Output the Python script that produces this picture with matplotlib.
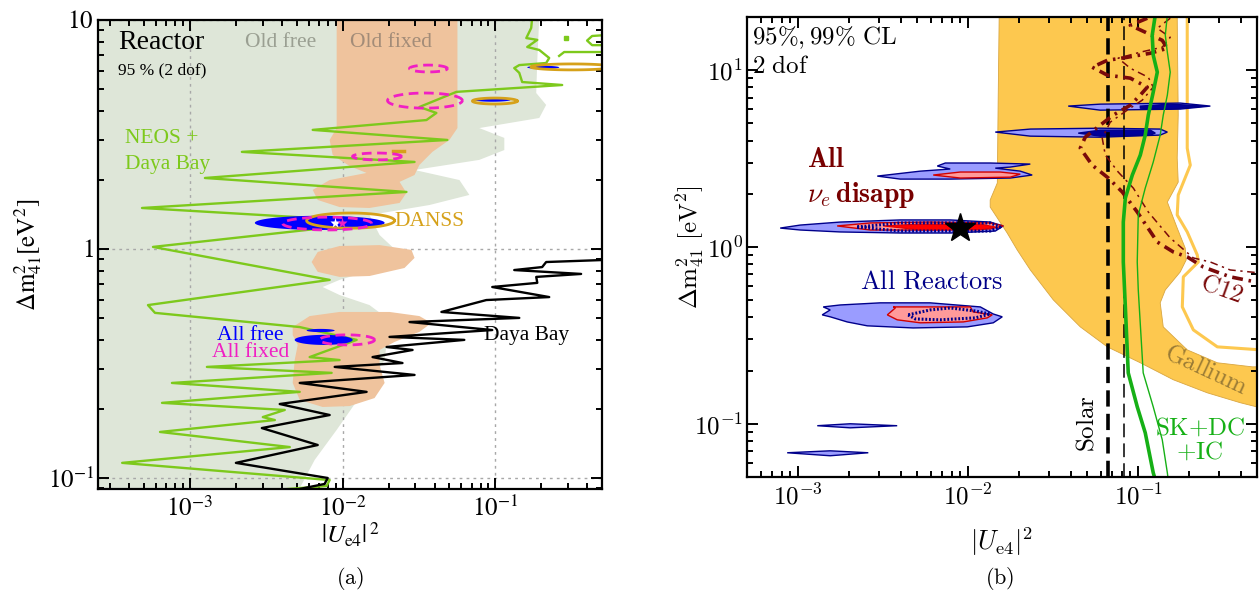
import numpy as np
import matplotlib
matplotlib.use("Agg")
import matplotlib.pyplot as plt

plt.rcParams['font.family'] = ['Liberation Serif', 'DejaVu Serif']
plt.rcParams['mathtext.fontset'] = 'cm'

# ======================= DATA (log10|Ue4|^2, log10 dm2_41) =======================
# ---- panel (a): reactor fits ----
old_free_edge = [(-0.712, 1.01), (-0.725, 0.825), (-0.732, 0.681), (-0.667, 0.629), (-0.712, 0.572),
                 (-1.105, 0.528), (-0.941, 0.485), (-0.941, 0.432), (-1.105, 0.389), (-1.529, 0.345),
                 (-1.235, 0.301), (-1.170, 0.236), (-1.431, 0.192), (-1.824, 0.148), (-1.758, 0.061),
                 (-1.660, 0.000), (-1.693, -0.070), (-2.020, -0.135), (-2.131, -0.166), (-2.020, -0.201),
                 (-1.824, -0.245), (-1.693, -0.310), (-1.725, -0.485), (-1.902, -0.659), (-2.039, -0.790),
                 (-2.183, -0.921), (-2.294, -1.061)]
old_fixed_top = [(-2.039, 1.01), (-2.039, 0.528), (-2.085, 0.476), (-2.065, 0.410), (-1.954, 0.362),
                 (-1.843, 0.332), (-2.085, 0.301), (-2.196, 0.258), (-2.163, 0.214), (-2.020, 0.183),
                 (-1.824, 0.179), (-1.627, 0.201), (-1.582, 0.245), (-1.627, 0.293), (-1.529, 0.323),
                 (-1.497, 0.367), (-1.412, 0.424), (-1.301, 0.476), (-1.248, 0.528), (-1.248, 1.01)]
old_fixed_mid = [(-2.203, -0.057), (-2.163, -0.013), (-2.020, 0.013), (-1.758, 0.017), (-1.549, -0.004),
                 (-1.529, -0.039), (-1.595, -0.083), (-1.824, -0.118), (-2.020, -0.122), (-2.163, -0.100)]
old_fixed_low = [(-2.327, -0.341), (-2.216, -0.293), (-2.020, -0.275), (-1.693, -0.275), (-1.497, -0.293),
                 (-1.418, -0.323), (-1.497, -0.362), (-1.660, -0.406), (-1.758, -0.441), (-1.758, -0.507),
                 (-1.725, -0.585), (-1.791, -0.651), (-1.954, -0.686), (-2.131, -0.690), (-2.281, -0.659),
                 (-2.327, -0.585), (-2.314, -0.485), (-2.294, -0.419), (-2.327, -0.376)]
neos_db = [(-0.758, 1.013), (-0.765, 0.965), (-0.797, 0.921), (-0.725, 0.913), (-0.791, 0.882),
           (-0.712, 0.869), (-0.647, 0.834), (-0.667, 0.812), (-0.843, 0.803), (-0.876, 0.790),
           (-0.843, 0.769), (-0.824, 0.729), (-0.562, 0.716), (-1.255, 0.686), (-1.497, 0.620),
           (-1.386, 0.594), (-1.451, 0.563), (-2.196, 0.520), (-1.314, 0.476), (-2.660, 0.424),
           (-1.529, 0.380), (-2.902, 0.310), (-1.582, 0.249), (-3.314, 0.179), (-1.758, 0.118),
           (-3.242, 0.009), (-2.085, -0.135), (-3.275, -0.245), (-3.229, -0.279), (-2.281, -0.341),
           (-1.908, -0.397), (-2.216, -0.472), (-2.020, -0.485), (-2.889, -0.515), (-2.072, -0.541),
           (-3.118, -0.585), (-2.281, -0.624), (-3.183, -0.672), (-2.379, -0.703), (-2.523, -0.734),
           (-2.444, -0.747), (-3.196, -0.799), (-2.346, -0.865), (-3.444, -0.934), (-2.085, -1.009),
           (-2.105, -1.035), (-2.608, -1.061)]
neos_db_top_a = [(-0.582, 0.843), (-0.549, 0.860), (-0.28, 0.860)]
neos_db_top_b = [(-0.28, 0.934), (-0.366, 0.930), (-0.399, 0.910), (-0.366, 0.890), (-0.28, 0.890)]
neos_db_dot = (-0.536, 0.921)
daya_bay = [(-0.288, -0.048), (-0.667, -0.057), (-0.693, -0.079), (-0.876, -0.092), (-0.438, -0.109),
            (-0.732, -0.122), (-0.725, -0.148), (-1.020, -0.166), (-0.647, -0.210), (-1.059, -0.223),
            (-1.353, -0.275), (-0.843, -0.301), (-1.562, -0.319), (-1.020, -0.354), (-1.693, -0.384),
            (-1.203, -0.397), (-1.712, -0.428), (-1.542, -0.441), (-1.804, -0.472), (-1.608, -0.498),
            (-2.052, -0.515), (-1.529, -0.550), (-2.281, -0.585), (-1.843, -0.624), (-2.412, -0.677),
            (-2.085, -0.725), (-2.529, -0.782), (-2.163, -0.856), (-2.699, -0.934), (-2.098, -1.000),
            (-2.118, -1.026), (-2.281, -1.048)]
# closed contours: (centre log x, centre log y, half-width, half-height) in decades
danss_cl = [(-1.948, 0.124, 0.288, 0.033), (-1.003, 0.646, 0.147, 0.013), (-0.497, 0.795, 0.27, 0.013)]
danss_bar = [(-1.673, 0.428), (-1.595, 0.428)]
all_free_cl = [(-2.150, 0.114, 0.425, 0.031), (-1.020, 0.651, 0.12, 0.008), (-0.686, 0.793, 0.105, 0.007),
               (-2.124, -0.397, 0.19, 0.022), (-2.144, -0.356, 0.092, 0.007)]
all_fixed_cl = [(-1.438, 0.788, 0.124, 0.015), (-1.461, 0.648, 0.245, 0.033), (-1.775, 0.404, 0.16, 0.015),
                (-2.101, 0.111, 0.291, 0.028), (-1.971, -0.397, 0.18, 0.022)]
bf_free = (-2.052, 0.114)
bf_fixed = (-2.007, 0.114)
left_xticks = [1e-3, 1e-2, 1e-1]
left_xticklabels = [r'$10^{-3}$', r'$10^{-2}$', r'$10^{-1}$']
left_yticks = [0.1, 1, 10]
left_yticklabels = [r'$10^{-1}$', r'$1$', r'$10$']

# ---- panel (b): global nu_e disappearance ----
gallium_band = [(-1.818, 1.311), (-1.824, 0.831), (-1.829, 0.362), (-1.871, 0.266), (-1.871, 0.226),
                (-1.771, 0.079), (-1.712, -0.017), (-1.635, -0.130), (-1.5, -0.299), (-1.341, -0.452),
                (-1.182, -0.565), (-0.988, -0.655), (-0.794, -0.751), (-0.594, -0.825), (-0.4, -0.881),
                (-0.28, -0.910), (-0.28, -0.678), (-0.329, -0.678), (-0.535, -0.655), (-0.712, -0.582),
                (-0.853, -0.452), (-0.871, -0.316), (-0.841, -0.243), (-0.753, -0.141), (-0.718, -0.073),
                (-0.724, -0.006), (-0.771, 0.107), (-0.829, 0.254), (-0.765, 0.367), (-0.771, 0.503),
                (-0.765, 0.746), (-0.771, 1.311)]
gallium_99 = [(-0.712, 1.311), (-0.712, 0.559), (-0.694, 0.463), (-0.765, 0.294), (-0.771, 0.181),
              (-0.712, 0.085), (-0.653, -0.045), (-0.647, -0.085), (-0.735, -0.169), (-0.741, -0.339),
              (-0.676, -0.469), (-0.535, -0.565), (-0.28, -0.582)]
solar_95 = 0.066
solar_99 = 0.082
sk_dc_ic_95 = [(-0.9, 1.311), (-0.918, 1.198), (-0.912, 1.085), (-0.888, 0.989), (-0.912, 0.876),
               (-0.941, 0.746), (-0.959, 0.633), (-0.988, 0.520), (-1.035, 0.407), (-1.076, 0.277),
               (-1.088, 0.141), (-1.088, -0.085), (-1.076, -0.339), (-1.059, -0.712), (-1.006, -0.904),
               (-0.959, -1.051), (-0.912, -1.277), (-0.9, -1.316)]
sk_dc_ic_99 = [(-0.829, 1.311), (-0.841, 1.198), (-0.829, 1.102), (-0.812, 0.989), (-0.829, 0.859),
               (-0.853, 0.746), (-0.871, 0.633), (-0.912, 0.480), (-0.959, 0.333), (-1.0, 0.181),
               (-1.006, -0.085), (-1.0, -0.243), (-0.971, -0.712), (-0.912, -0.904), (-0.859, -1.090),
               (-0.829, -1.277), (-0.824, -1.316)]
c12_95 = [(-0.947, 1.294), (-1.047, 1.254), (-0.959, 1.215), (-0.859, 1.169), (-0.829, 1.124),
          (-0.929, 1.096), (-1.065, 1.073), (-1.182, 1.056), (-1.271, 1.017), (-1.182, 0.972),
          (-1.047, 0.955), (-0.947, 0.904), (-0.988, 0.859), (-1.047, 0.802), (-1.147, 0.746),
          (-1.224, 0.689), (-1.312, 0.621), (-1.341, 0.559), (-1.271, 0.463), (-1.176, 0.390),
          (-1.094, 0.311), (-1.006, 0.198), (-0.888, 0.028), (-0.794, -0.028), (-0.712, -0.056),
          (-0.618, -0.113), (-0.459, -0.169), (-0.282, -0.203)]
c12_99 = [(-0.812, 1.294), (-0.888, 1.237), (-0.812, 1.186), (-0.859, 1.130), (-0.988, 1.102),
          (-1.118, 1.068), (-1.047, 1.011), (-0.941, 0.960), (-0.912, 0.904), (-0.976, 0.831),
          (-1.065, 0.774), (-1.165, 0.706), (-1.212, 0.616), (-1.194, 0.520), (-1.118, 0.424),
          (-1.029, 0.333), (-0.941, 0.198), (-0.812, 0.051), (-0.676, -0.062), (-0.576, -0.085),
          (-0.459, -0.130), (-0.282, -0.147)]
# All reactors (99% light blue, 95% dark blue) and all nu_e disappearance (pink / red)
react_99 = [
    [(-3.106, 0.107), (-2.988, 0.124), (-2.753, 0.141), (-2.4, 0.153), (-2.106, 0.153), (-1.871, 0.141),
     (-1.794, 0.119), (-1.841, 0.090), (-2.106, 0.079), (-2.4, 0.079), (-2.753, 0.085), (-2.988, 0.096)],
    [(-2.535, 0.401), (-2.282, 0.429), (-2.106, 0.441), (-2.182, 0.458), (-2.135, 0.475), (-1.871, 0.475),
     (-1.635, 0.469), (-1.753, 0.452), (-1.841, 0.446), (-1.694, 0.429), (-1.624, 0.407), (-1.753, 0.390),
     (-2.106, 0.384), (-2.4, 0.384)],
    [(-1.841, 0.650), (-1.635, 0.667), (-1.224, 0.672), (-0.871, 0.667), (-0.829, 0.650), (-0.871, 0.633),
     (-1.224, 0.621), (-1.635, 0.627)],
    [(-1.412, 0.797), (-1.224, 0.808), (-0.753, 0.814), (-0.576, 0.797), (-0.753, 0.780), (-1.224, 0.774)],
    [(-2.853, -0.339), (-2.812, -0.356), (-2.859, -0.384), (-2.812, -0.395), (-2.712, -0.424),
     (-2.594, -0.446), (-2.324, -0.458), (-2.006, -0.452), (-1.853, -0.429), (-1.8, -0.395),
     (-1.853, -0.379), (-1.929, -0.339), (-2.224, -0.316), (-2.518, -0.316), (-2.753, -0.328)],
    [(-2.888, -1.011), (-2.694, -1.0), (-2.418, -1.011), (-2.694, -1.023)],
    [(-3.065, -1.164), (-2.812, -1.153), (-2.588, -1.164), (-2.812, -1.181)],
]
react_95 = [
    [(-1.353, 0.644), (-1.224, 0.661), (-0.929, 0.661), (-0.9, 0.644), (-0.929, 0.633), (-1.224, 0.627)],
    [(-0.988, 0.797), (-0.812, 0.808), (-0.606, 0.797), (-0.812, 0.780), (-0.988, 0.785)],
]
react_95_dotted = [
    [(-2.653, 0.113), (-2.4, 0.136), (-1.871, 0.136), (-1.812, 0.113), (-1.871, 0.090), (-2.4, 0.090),
     (-2.653, 0.113)],
    [(-2.353, -0.384), (-2.224, -0.356), (-2.106, -0.345), (-1.959, -0.362), (-1.871, -0.379),
     (-1.959, -0.401), (-2.165, -0.412), (-2.312, -0.407), (-2.353, -0.384)],
]
nue_99 = [
    [(-2.771, 0.119), (-2.576, 0.136), (-2.224, 0.141), (-1.871, 0.136), (-1.794, 0.119), (-1.871, 0.102),
     (-2.224, 0.096), (-2.576, 0.096)],
    [(-2.206, 0.407), (-2.047, 0.424), (-1.812, 0.424), (-1.694, 0.412), (-1.753, 0.395), (-2.047, 0.390)],
    [(-2.476, -0.384), (-2.429, -0.345), (-2.441, -0.339), (-1.988, -0.339), (-1.971, -0.367),
     (-1.859, -0.384), (-1.888, -0.401), (-2.029, -0.424), (-2.282, -0.429), (-2.418, -0.412)],
]
nue_95 = [[(-2.5, 0.119), (-2.282, 0.130), (-1.929, 0.130), (-1.841, 0.113), (-1.929, 0.096), (-2.282, 0.096)]]
nue_best_fit = (-2.047, 0.107)
right_xticks = [1e-3, 1e-2, 1e-1]
right_xticklabels = [r'$10^{-3}$', r'$10^{-2}$', r'$10^{-1}$']
right_yticks = [0.1, 1, 10]
right_yticklabels = [r'$10^{-1}$', r'$10^{0}$', r'$10^{1}$']


# ======================= helpers =======================
def xy(pairs):
    a = np.asarray(pairs, float)
    return 10 ** a[:, 0], 10 ** a[:, 1]


def ellipse(c, n=120):
    cx, cy, hw, hh = c
    t = np.linspace(0, 2 * np.pi, n)
    return 10 ** (cx + hw * np.cos(t)), 10 ** (cy + hh * np.sin(t))


def style_axes(ax):
    ax.set_xscale('log')
    ax.set_yscale('log')
    for s in ax.spines.values():
        s.set_linewidth(1.6)
        s.set_zorder(10)
    ax.tick_params(which='both', direction='in', top=True, right=True, width=1.4, zorder=10)
    ax.tick_params(which='major', length=8, labelsize=18)
    ax.tick_params(axis='x', which='major', pad=5)
    ax.tick_params(axis='y', which='major', pad=3)
    ax.tick_params(which='minor', length=4)


fig = plt.figure(figsize=(12.6, 5.96), dpi=100)

# ======================= panel (a) =======================
axL = fig.add_axes([0.0778, 0.1795, 0.4, 0.787])
style_axes(axL)
axL.set_xlim(2.5e-4, 0.5)
axL.set_ylim(0.0895, 10)

fx, fy = xy(old_free_edge)
fx = np.concatenate([fx, [1e-4, 1e-4]])
fy = np.concatenate([fy, [fy[-1], fy[0]]])
axL.fill(fx, fy, color='#dee6d8', lw=0, zorder=1)
for v in left_xticks:
    axL.axvline(v, color='#a8a8a8', lw=1.0, ls=(0, (2, 3)), zorder=1.2)
for v in left_yticks:
    axL.axhline(v, color='#a8a8a8', lw=1.0, ls=(0, (2, 3)), zorder=1.2)
for blob in (old_fixed_top, old_fixed_mid, old_fixed_low):
    axL.fill(*xy(blob), color='#efc39d', lw=0, zorder=1.5)

axL.plot(*xy(neos_db), color='#7dc91c', lw=1.7, zorder=3)
axL.plot(*xy(neos_db_top_a), color='#7dc91c', lw=1.7, zorder=3)
axL.plot(*xy(neos_db_top_b), color='#7dc91c', lw=1.7, zorder=3)
axL.plot(10 ** neos_db_dot[0], 10 ** neos_db_dot[1], 's', color='#7dc91c', ms=2.5, zorder=3)
axL.plot(*xy(daya_bay), color='black', lw=1.7, zorder=3)
for c in all_free_cl:
    axL.fill(*ellipse(c), color='#0000ff', lw=0, zorder=4)
for c in danss_cl:
    axL.plot(*ellipse(c), color='#d6a11a', lw=2.0, zorder=5)
axL.plot(*xy(danss_bar), color='#d6a11a', lw=2.5, zorder=5)
for c in all_fixed_cl:
    axL.plot(*ellipse(c), color='#f01fc4', lw=2.0, ls=(0, (3.5, 2)), zorder=6)
axL.plot(10 ** bf_free[0], 10 ** bf_free[1], '*', color='white', ms=8, mec='none', zorder=7)
axL.plot(10 ** bf_fixed[0], 10 ** bf_fixed[1], '*', color='#f01fc4', ms=8, mec='none', zorder=7)

axL.set_xticks(left_xticks, labels=left_xticklabels, math_fontfamily='stix')
axL.set_yticks(left_yticks, labels=left_yticklabels, math_fontfamily='stix')
axL.set_xlabel(r'$|U_{\rm e4}|^{\,2}$', fontsize=18, math_fontfamily='stix')
axL.xaxis.set_label_coords(0.5, -0.068)
axL.set_ylabel(r'$\Delta\mathrm{m}^2_{41}[\mathrm{eV}^2]$', fontsize=18, math_fontfamily='stix')
axL.yaxis.set_label_coords(-0.108, 0.5)

tL = axL.transAxes
axL.text(0.040, 0.951, 'Reactor', transform=tL, fontsize=20, va='center', zorder=8)
axL.text(0.040, 0.893, '95 % (2 dof)', transform=tL, fontsize=12.5, va='center', zorder=8)
axL.text(0.292, 0.951, 'Old free', transform=tL, fontsize=15.5, va='center', color='#9a9f92', zorder=8)
axL.text(0.500, 0.951, 'Old fixed', transform=tL, fontsize=15.5, va='center', color='#a38c78', zorder=8)
axL.text(0.054, 0.748, 'NEOS +', transform=tL, fontsize=15.5, va='center', color='#7dc91c', zorder=8)
axL.text(0.054, 0.691, 'Daya Bay', transform=tL, fontsize=15.5, va='center', color='#7dc91c', zorder=8)
axL.text(0.589, 0.571, 'DANSS', transform=tL, fontsize=15.5, va='center', color='#d6a11a', zorder=8)
axL.text(0.302, 0.328, 'All free', transform=tL, fontsize=15.5, va='center', ha='center',
         color='#0000ff', zorder=8)
axL.text(0.302, 0.290, 'All fixed', transform=tL, fontsize=15.5, va='center', ha='center',
         color='#f01fc4', zorder=8)
axL.text(0.766, 0.328, 'Daya Bay', transform=tL, fontsize=15.5, va='center', color='black', zorder=8)

# ======================= panel (b) =======================
axR = fig.add_axes([0.5929, 0.1997, 0.4048, 0.7718])
style_axes(axR)
axR.set_xlim(5e-4, 0.5)
axR.set_ylim(0.05, 20)

axR.fill(*xy(gallium_band), facecolor='#fdc84f', edgecolor='#d9a640', lw=0.6, zorder=1)
axR.plot(*xy(gallium_99), color='#fdc84f', lw=2.2, zorder=1.1)

for poly in react_99:
    axR.fill(*xy(poly), facecolor='#9a9cff', edgecolor='#00008b', lw=1.0, zorder=2)
for poly in react_95:
    axR.fill(*xy(poly), facecolor='#00009a', edgecolor='#00008b', lw=1.0, zorder=2.1)
for poly in nue_99:
    axR.fill(*xy(poly), facecolor='#ff9a9a', edgecolor='#d00000', lw=1.0, zorder=2.2)
for poly in nue_95:
    axR.fill(*xy(poly), facecolor='#ff0000', edgecolor='#e00000', lw=0.8, zorder=2.3)
for poly in react_95_dotted:
    axR.plot(*xy(poly), color='#00008b', lw=2.2, ls=(0, (0.6, 0.6)), zorder=2.4)
axR.plot(10 ** nue_best_fit[0], 10 ** nue_best_fit[1], '*', color='black', ms=22, zorder=2.6)

axR.axvline(solar_95, color='black', lw=2.6, dashes=(4.5, 2), zorder=3)
axR.axvline(solar_99, color='black', lw=1.1, dashes=(9, 4), zorder=3)
axR.plot(*xy(c12_95), color='#7a0a0a', lw=2.6, dashes=(3, 1.6, 0.7, 1.6), zorder=3.1)
axR.plot(*xy(c12_99), color='#7a0a0a', lw=1.1, dashes=(5, 3, 1.5, 3), zorder=3.1)
axR.plot(*xy(sk_dc_ic_95), color='#16b016', lw=2.6, zorder=3.2)
axR.plot(*xy(sk_dc_ic_99), color='#16b016', lw=1.0, zorder=3.2)

axR.set_xticks(right_xticks, labels=right_xticklabels)
axR.set_yticks(right_yticks, labels=right_yticklabels)
axR.set_xlabel(r'$|U_{\mathrm{e}4}|^2$', fontsize=19)
axR.xaxis.set_label_coords(0.5, -0.105)
axR.set_ylabel(r'$\Delta\mathrm{m}^2_{41}\ [\mathrm{eV}^2]$', fontsize=18)
axR.yaxis.set_label_coords(-0.078, 0.5)

tR = axR.transAxes
axR.text(0.010, 0.954, r'$\mathrm{95\%,99\%\ CL}$', transform=tR, fontsize=18, va='center', zorder=8)
axR.text(0.010, 0.891, r'$\mathrm{2\ dof}$', transform=tR, fontsize=18, va='center', zorder=8)
axR.text(0.118, 0.689, r'$\mathbf{All}$', transform=tR, fontsize=20, va='center', color='#780000', zorder=8)
axR.text(0.118, 0.613, r'$\nu_e\,\mathbf{disapp}$', transform=tR, fontsize=20, va='center',
         color='#780000', zorder=8)
axR.text(0.222, 0.424, r'$\mathrm{All\ Reactors}$', transform=tR, fontsize=19, va='center',
         color='#000088', zorder=8)
axR.text(0.667, 0.117, r'$\mathrm{Solar}$', transform=tR, fontsize=18, va='center', ha='center',
         rotation=90, zorder=8)
axR.text(0.888, 0.107, r'$\mathrm{SK{+}DC}$', transform=tR, fontsize=18, va='center', ha='center',
         color='#16b016', zorder=8)
axR.text(0.888, 0.054, r'$\mathrm{{+}IC}$', transform=tR, fontsize=18, va='center', ha='center',
         color='#16b016', zorder=8)
axR.text(0.931, 0.407, r'$\mathrm{C12}$', transform=tR, fontsize=18, va='center', ha='center',
         rotation=-20, color='#7a0a0a', zorder=8)
axR.text(0.900, 0.233, r'$\mathrm{Gallium}$', transform=tR, fontsize=18, va='center', ha='center',
         rotation=-25, color='#9a7b35', zorder=8)

fig.text(350 / 1260, 1 - 578 / 596, r'$\mathrm{(a)}$', ha='center', va='center', fontsize=16)
fig.text(1000 / 1260, 1 - 578 / 596, r'$\mathrm{(b)}$', ha='center', va='center', fontsize=16)

fig.savefig('out.png', dpi=100)
